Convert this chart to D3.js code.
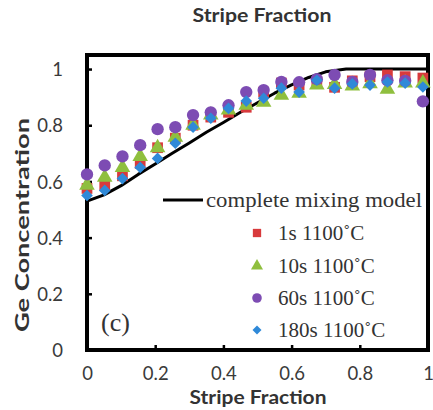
<!DOCTYPE html>
<html>
<head>
<meta charset="utf-8">
<script src="https://cdn.jsdelivr.net/npm/d3@7/dist/d3.min.js"></script>
<style>
  html, body { margin: 0; padding: 0; background: #fff; }
  svg { display: block; }
</style>
</head>
<body>
<svg id="chart" width="433" height="410"></svg>
<script>
// Stripe positions (fraction of the stripe width)
const stripeX = [0, 0.052, 0.104, 0.156, 0.207, 0.259, 0.311, 0.363, 0.415, 0.467,
                 0.518, 0.570, 0.622, 0.674, 0.726, 0.778, 0.830, 0.881, 0.933, 0.985];

// Measured Ge concentration for each anneal
const ge1s   = [0.575, 0.586, 0.620, 0.664, 0.720, 0.754, 0.800, 0.829, 0.846, 0.864,
                0.918, 0.950, 0.943, 0.954, 0.935, 0.958, 0.973, 0.979, 0.973, 0.968];
const ge10s  = [0.586, 0.615, 0.650, 0.689, 0.720, 0.757, 0.800, 0.836, 0.854, 0.871,
                0.882, 0.907, 0.914, 0.943, 0.945, 0.940, 0.948, 0.928, 0.950, 0.950];
const ge60s  = [0.625, 0.657, 0.689, 0.729, 0.786, 0.793, 0.836, 0.846, 0.871, 0.918,
                0.925, 0.954, 0.953, 0.964, 0.979, 0.954, 0.979, 0.960, 0.958, 0.885];
const ge180s = [0.550, 0.568, 0.610, 0.650, 0.682, 0.736, 0.793, 0.825, 0.860, 0.886,
                0.896, 0.932, 0.918, 0.960, 0.932, 0.947, 0.943, 0.954, 0.950, 0.936];

// Complete mixing model curve
const modelX = [0, 0.05, 0.10, 0.15, 0.20, 0.25, 0.30, 0.35, 0.40, 0.45, 0.50,
                0.55, 0.60, 0.65, 0.70, 0.76, 1.0];
const modelY = [0.530, 0.552, 0.585, 0.625, 0.662, 0.700, 0.737, 0.775, 0.810, 0.846, 0.880,
                0.914, 0.944, 0.970, 0.990, 1.0, 1.0];

const xTicks = [0, 0.2, 0.4, 0.6, 0.8, 1];
const yTicks = [0, 0.2, 0.4, 0.6, 0.8, 1];
const xTickLabels = ["0", "0.2", "0.4", "0.6", "0.8", "1"];
const yTickLabels = ["0", "0.2", "0.4", "0.6", "0.8", "1"];

const seriesNames = ["1s 1100˚C", "10s 1100˚C", "60s 1100˚C", "180s 1100˚C"];
const seriesColors = ["#d83a3c", "#8fbf3e", "#7d4cb3", "#2f89d8"];
const seriesShapes = [d3.symbolSquare, d3.symbolTriangle, d3.symbolCircle, d3.symbolSquare];
const seriesRotate = [0, 0, 0, 45];
const seriesSizes = [115, 105, 120, 68];
const seriesValues = [ge1s, ge10s, ge60s, ge180s];

const svg = d3.select("#chart");
const plotLeft = 87, plotRight = 428, plotTop = 55, plotBottom = 350;

const x = d3.scaleLinear().domain([0, 1]).range([plotLeft, plotRight]);
const y = d3.scaleLinear().domain([0, 1.05]).range([plotBottom, plotTop]);

const tickFont = "Lato, 'Open Sans', sans-serif";
const serif = "'Liberation Serif', 'DejaVu Serif', serif";

// Axes with inward ticks
const xAxis = d3.axisBottom(x).tickValues(xTicks).tickSize(-5)
  .tickFormat((d, i) => xTickLabels[i]).tickPadding(17);
const yAxis = d3.axisLeft(y).tickValues(yTicks).tickSize(-5)
  .tickFormat((d, i) => yTickLabels[i]).tickPadding(24);

const gx = svg.append("g").attr("transform", `translate(0,${plotBottom})`).call(xAxis);
const gy = svg.append("g").attr("transform", `translate(${plotLeft},0)`).call(yAxis);
[gx, gy].forEach(g => {
  g.select(".domain").remove();
  g.selectAll(".tick line").attr("stroke", "#000").attr("stroke-width", 2.5);
  g.selectAll(".tick text").attr("fill", "#3a3a3a")
    .style("font-family", tickFont).style("font-size", "18.5px");
});
gx.selectAll(".tick").filter(d => d === 0 || d === 1).select("line").remove();
gy.selectAll(".tick").filter(d => d === 0).select("line").remove();
gy.selectAll(".tick text").attr("dy", "0.36em");

// Plot frame
svg.append("rect")
  .attr("x", plotLeft).attr("y", plotTop)
  .attr("width", plotRight - plotLeft).attr("height", plotBottom - plotTop)
  .attr("fill", "none").attr("stroke", "#000").attr("stroke-width", 4);

// Model line
const line = d3.line().x((d, i) => x(modelX[i])).y(d => y(d));
svg.append("path").datum(modelY)
  .attr("d", line)
  .attr("fill", "none").attr("stroke", "#000").attr("stroke-width", 3)
  .attr("stroke-linejoin", "round");

// Measured points
seriesValues.forEach((vals, s) => {
  const sym = d3.symbol().type(seriesShapes[s]).size(seriesSizes[s]);
  svg.append("g").selectAll("path").data(vals).join("path")
    .attr("d", sym)
    .attr("transform", (d, i) => `translate(${x(stripeX[i])},${y(d)}) rotate(${seriesRotate[s]})`)
    .attr("fill", seriesColors[s]);
});

// Titles
svg.append("text").attr("x", 262).attr("y", 22).attr("text-anchor", "middle")
  .attr("textLength", 139).attr("lengthAdjust", "spacingAndGlyphs")
  .style("font-family", tickFont).style("font-weight", "bold").style("font-size", "19px")
  .attr("fill", "#333").text("Stripe Fraction");
svg.append("text").attr("x", 258).attr("y", 404).attr("text-anchor", "middle")
  .attr("textLength", 137).attr("lengthAdjust", "spacingAndGlyphs")
  .style("font-family", tickFont).style("font-weight", "bold").style("font-size", "18.5px")
  .attr("fill", "#333").text("Stripe Fraction");
svg.append("text").attr("transform", "translate(29,225) rotate(-90)").attr("text-anchor", "middle")
  .attr("textLength", 214).attr("lengthAdjust", "spacingAndGlyphs")
  .style("font-family", tickFont).style("font-weight", "bold").style("font-size", "19px")
  .attr("fill", "#333").text("Ge Concentration");

// Panel tag
svg.append("text").attr("x", 101).attr("y", 331)
  .style("font-family", serif).style("font-size", "26px").attr("fill", "#333").text("(c)");

// Legend
const lg = svg.append("g");
lg.append("line").attr("x1", 163).attr("x2", 203).attr("y1", 200).attr("y2", 200)
  .attr("stroke", "#000").attr("stroke-width", 3);
lg.append("text").attr("x", 206).attr("y", 207)
  .attr("textLength", 216).attr("lengthAdjust", "spacingAndGlyphs")
  .style("font-family", serif).style("font-size", "22px").attr("fill", "#333")
  .text("complete mixing model");
const rowY = [233, 266, 298, 330];
seriesNames.forEach((name, s) => {
  const sym = d3.symbol().type(seriesShapes[s]).size(seriesSizes[s] * 0.6);
  lg.append("path").attr("d", sym)
    .attr("transform", `translate(257,${rowY[s]}) rotate(${seriesRotate[s]})`)
    .attr("fill", seriesColors[s]);
  lg.append("text").attr("x", 278).attr("y", rowY[s] + 7)
    .style("font-family", serif).style("font-size", "21px").attr("fill", "#333")
    .text(name);
});
</script>
</body>
</html>
